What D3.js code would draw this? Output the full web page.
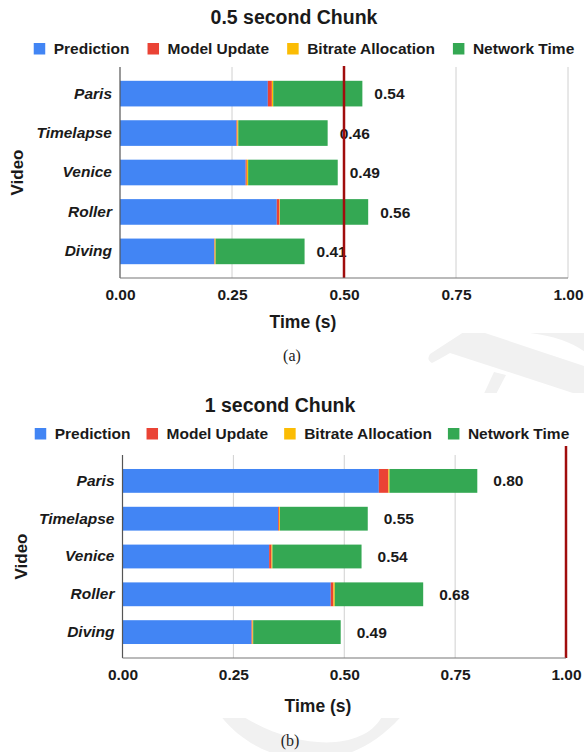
<!DOCTYPE html>
<html>
<head>
<meta charset="utf-8">
<script src="https://cdn.jsdelivr.net/npm/d3@7"></script>
<style>
  body { margin: 0; background: #fff; }
  svg { display: block; font-family: "Liberation Sans", Arial, sans-serif; }
</style>
</head>
<body>
<div id="chart"></div>
<script>
// categories and series
var videos = ["Paris", "Timelapse", "Venice", "Roller", "Diving"];
var components = ["Prediction", "Model Update", "Bitrate Allocation", "Network Time"];
var colors = ["#4285f4", "#ea4335", "#fbbc04", "#34a853"];
var xTicks = [0, 0.25, 0.5, 0.75, 1];

// 0.5 second chunk
var halfPrediction = [0.330, 0.260, 0.2805, 0.350, 0.2105];
var halfModelUpdate = [0.009, 0.002, 0.0025, 0.006, 0.001];
var halfBitrate = [0.003, 0.002, 0.003, 0.001, 0.002];
var halfNetwork = [0.199, 0.1995, 0.200, 0.197, 0.1985];
var halfTotals = ["0.54", "0.46", "0.49", "0.56", "0.41"];
var halfDeadline = 0.5;

// 1 second chunk
var fullPrediction = [0.578, 0.351, 0.3306, 0.4696, 0.291];
var fullModelUpdate = [0.0215, 0.002, 0.0054, 0.006, 0.002];
var fullBitrate = [0.0025, 0.002, 0.002, 0.003, 0.0016];
var fullNetwork = [0.198, 0.198, 0.201, 0.1994, 0.1974];
var fullTotals = ["0.80", "0.55", "0.54", "0.68", "0.49"];
var fullDeadline = 1.0;

var svgWidth = 584;
var svgHeight = 752;

var svg = d3.select("#chart")
  .append("svg")
  .attr("width", svgWidth)
  .attr("height", svgHeight);

// faint page watermark showing through between the two charts
var defs = svg.append("defs");
defs.append("clipPath").attr("id", "gapA")
  .append("rect").attr("x", 0).attr("y", 333).attr("width", 584).attr("height", 60);
defs.append("clipPath").attr("id", "gapB")
  .append("rect").attr("x", 0).attr("y", 718).attr("width", 584).attr("height", 34);

var markA = svg.append("g").attr("clip-path", "url(#gapA)").attr("fill", "#f1f1f1");
markA.append("path")
  .attr("d", "M470,328 L590,368 L590,398 L576,394 L450,353 Q438,360 432,363 Q426,360 430,354 Z");
markA.append("path")
  .attr("d", "M494,372 L506,375 L494,398 L482,398 Z");
markA.append("path")
  .attr("d", "M530,328 L590,328 L590,356 Q570,338 530,333 Z");

svg.append("g").attr("clip-path", "url(#gapB)")
  .append("path")
  .attr("fill", "#f1f1f1")
  .attr("d", "M218,712 C250,760 340,790 405,712 L384,712 C370,750 300,755 236,712 Z");

function drawPanel(p) {
  var g = svg.append("g");

  var x = d3.scaleLinear().domain([0, 1]).range([p.left, p.right]);
  var y = d3.scaleBand().domain(videos).range([p.top, p.bottom]).padding(p.pad);

  // title
  g.append("text")
    .attr("x", p.titleX)
    .attr("y", p.titleY)
    .attr("text-anchor", "middle")
    .attr("font-size", "19.5px")
    .attr("font-weight", "bold")
    .attr("fill", "#1a1a1a")
    .text(p.title);

  // legend, centred as a row
  var legend = g.append("g");
  var cursor = 0;
  components.forEach(function(name, i) {
    var item = legend.append("g").attr("transform", `translate(${cursor}, 0)`);
    item.append("rect")
      .attr("x", 0)
      .attr("y", -11)
      .attr("width", 11.5)
      .attr("height", 11.5)
      .attr("fill", colors[i]);
    var t = item.append("text")
      .attr("x", 20)
      .attr("y", 0)
      .attr("font-size", "15.5px")
      .attr("font-weight", "bold")
      .attr("fill", "#1a1a1a")
      .text(name);
    cursor += 20 + t.node().getComputedTextLength() + p.legendGap;
  });
  var legendWidth = cursor - p.legendGap;
  legend.attr("transform", `translate(${p.legendX - legendWidth / 2}, ${p.legendY})`);

  // gridlines
  g.append("g")
    .selectAll("line")
    .data(xTicks.slice(1))
    .enter()
    .append("line")
    .attr("x1", d => x(d))
    .attr("x2", d => x(d))
    .attr("y1", p.top)
    .attr("y2", p.bottom)
    .attr("stroke", "#d0d0d0")
    .attr("stroke-width", 1);

  // stacked bars
  var series = [p.prediction, p.modelUpdate, p.bitrate, p.network];
  var rows = videos.map(function(v, i) {
    var row = { video: v };
    components.forEach(function(c, j) { row[c] = series[j][i]; });
    return row;
  });
  var stacked = d3.stack().keys(components)(rows);

  g.append("g")
    .selectAll("g")
    .data(stacked)
    .enter()
    .append("g")
    .attr("fill", (d, i) => colors[i])
    .selectAll("rect")
    .data(d => d)
    .enter()
    .append("rect")
    .attr("x", d => x(d[0]))
    .attr("y", d => y(d.data.video))
    .attr("width", d => Math.max(0, x(d[1]) - x(d[0])))
    .attr("height", y.bandwidth());

  // total labels
  g.append("g")
    .selectAll("text")
    .data(rows)
    .enter()
    .append("text")
    .attr("x", d => x(d3.sum(components, c => d[c])) + p.labelGap)
    .attr("y", d => y(d.video) + y.bandwidth() / 2)
    .attr("dy", "0.36em")
    .attr("font-size", "15.5px")
    .attr("font-weight", "bold")
    .attr("fill", "#1a1a1a")
    .text((d, i) => p.totals[i]);

  // deadline line
  g.append("line")
    .attr("x1", x(p.deadline))
    .attr("x2", x(p.deadline))
    .attr("y1", p.top - p.lineRise)
    .attr("y2", p.bottom)
    .attr("stroke", "#a00d0d")
    .attr("stroke-width", 2.5);

  // axes
  var bottomAxis = d3.axisBottom(x)
    .tickValues(xTicks)
    .tickFormat(d3.format(".2f"))
    .tickSize(0)
    .tickPadding(11);
  var xAxis = g.append("g")
    .attr("transform", `translate(0, ${p.bottom})`)
    .call(bottomAxis);
  xAxis.select(".domain").remove();
  xAxis.selectAll("text")
    .attr("font-family", "Liberation Sans, Arial, sans-serif")
    .attr("font-size", "15.5px")
    .attr("font-weight", "bold")
    .attr("fill", "#1a1a1a");

  var leftAxis = d3.axisLeft(y).tickSize(0).tickPadding(8);
  var yAxis = g.append("g")
    .attr("transform", `translate(${p.left}, 0)`)
    .call(leftAxis);
  yAxis.select(".domain").remove();
  yAxis.selectAll("text")
    .attr("font-family", "Liberation Sans, Arial, sans-serif")
    .attr("font-size", "15.5px")
    .attr("font-weight", "bold")
    .attr("font-style", "italic")
    .attr("fill", "#1a1a1a");

  // baselines
  g.append("line")
    .attr("x1", p.left).attr("x2", p.left)
    .attr("y1", p.top).attr("y2", p.bottom)
    .attr("stroke", "#555").attr("stroke-width", 1.2);
  g.append("line")
    .attr("x1", p.left).attr("x2", p.right)
    .attr("y1", p.bottom).attr("y2", p.bottom)
    .attr("stroke", "#777").attr("stroke-width", 1.2);

  // axis titles
  g.append("text")
    .attr("x", p.xTitleX)
    .attr("y", p.xTitleY)
    .attr("text-anchor", "middle")
    .attr("font-size", "17.5px")
    .attr("font-weight", "bold")
    .attr("fill", "#1a1a1a")
    .text("Time (s)");

  g.append("text")
    .attr("transform", `translate(${p.yTitleX}, ${(p.top + p.bottom) / 2}) rotate(-90)`)
    .attr("text-anchor", "middle")
    .attr("dy", "0.36em")
    .attr("font-size", "17px")
    .attr("font-weight", "bold")
    .attr("fill", "#1a1a1a")
    .text("Video");

  // sub-caption
  g.append("text")
    .attr("x", p.capX)
    .attr("y", p.capY)
    .attr("text-anchor", "middle")
    .attr("font-family", "Liberation Serif, DejaVu Serif, serif")
    .attr("font-size", "16px")
    .attr("fill", "#222")
    .text(p.caption);
}

drawPanel({
  title: "0.5 second Chunk", titleX: 294, titleY: 24,
  legendX: 304, legendY: 54, legendGap: 18,
  top: 67, bottom: 278, left: 120, right: 568, pad: 0.35,
  prediction: halfPrediction, modelUpdate: halfModelUpdate,
  bitrate: halfBitrate, network: halfNetwork,
  totals: halfTotals, deadline: halfDeadline,
  labelGap: 12, lineRise: 1,
  xTitleX: 303, xTitleY: 328, yTitleX: 17,
  caption: "(a)", capX: 292, capY: 361
});

drawPanel({
  title: "1 second Chunk", titleX: 280, titleY: 412,
  legendX: 302, legendY: 439, legendGap: 16,
  top: 455, bottom: 658, left: 122.5, right: 566, pad: 0.37,
  prediction: fullPrediction, modelUpdate: fullModelUpdate,
  bitrate: fullBitrate, network: fullNetwork,
  totals: fullTotals, deadline: fullDeadline,
  labelGap: 16, lineRise: 9,
  xTitleX: 318, xTitleY: 712, yTitleX: 21,
  caption: "(b)", capX: 290, capY: 746
});
</script>
</body>
</html>
